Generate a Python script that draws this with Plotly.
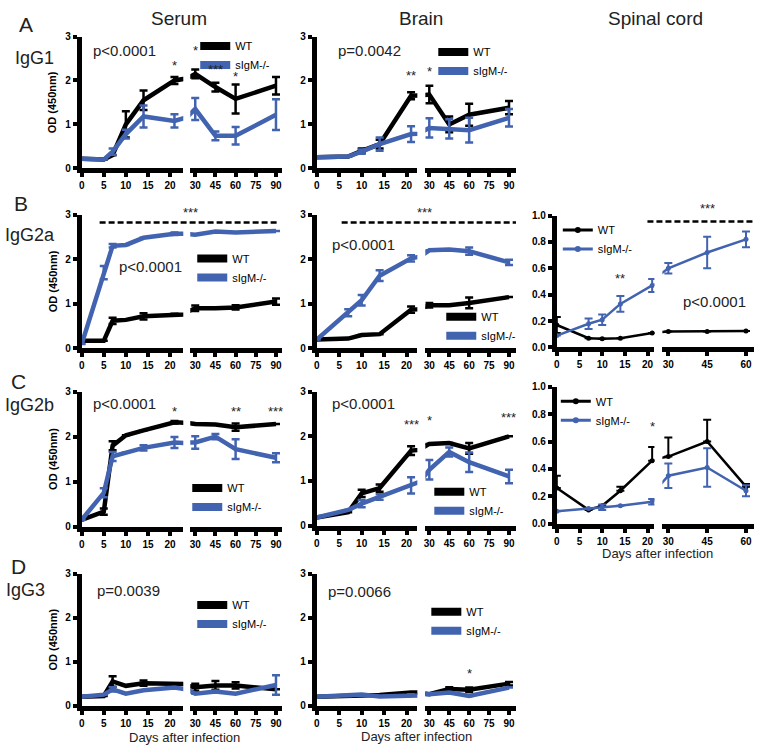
import plotly.graph_objects as go

W, H = 760, 749
BLACK = "#000000"
BLUE = "#4263AF"
FONT = "Liberation Sans, Arial, Helvetica, sans-serif"

# ---------------- data (OD 450nm, mean and SEM) ----------------
# IgG1
igg1_serum_days = [0, 5, 7, 10, 14, 21, 30, 45, 60, 90]
igg1_serum_wt = [0.22, 0.20, 0.30, 1.00, 1.55, 2.00, 2.15, 1.85, 1.58, 1.88]
igg1_serum_wt_sem = [0, 0, 0, 0.30, 0.22, 0.08, 0.10, 0.10, 0.33, 0.20]
igg1_serum_ko = [0.22, 0.20, 0.38, 0.78, 1.18, 1.08, 1.35, 0.74, 0.74, 1.22]
igg1_serum_ko_sem = [0, 0, 0.07, 0.10, 0.25, 0.15, 0.25, 0.10, 0.20, 0.35]

igg1_brain_days = [0, 7, 10, 14, 21, 30, 45, 60, 90]
igg1_brain_wt = [0.25, 0.27, 0.40, 0.55, 1.65, 1.68, 1.00, 1.22, 1.38]
igg1_brain_wt_sem = [0, 0, 0.05, 0.10, 0.08, 0.20, 0.18, 0.25, 0.15]
igg1_brain_ko = [0.25, 0.27, 0.38, 0.55, 0.78, 0.92, 0.90, 0.87, 1.15]
igg1_brain_ko_sem = [0, 0, 0.05, 0.15, 0.18, 0.22, 0.22, 0.28, 0.20]

# IgG2a
igg2a_serum_days = [0, 5, 7, 10, 14, 21, 30, 45, 60, 90]
igg2a_serum_wt = [0.17, 0.17, 0.62, 0.64, 0.72, 0.78, 0.90, 0.90, 0.92, 1.05]
igg2a_serum_wt_sem = [0, 0, 0.07, 0, 0.07, 0, 0.06, 0, 0.05, 0.07]
igg2a_serum_ko = [0.10, 1.70, 2.30, 2.32, 2.48, 2.57, 2.55, 2.62, 2.60, 2.63]
igg2a_serum_ko_sem = [0, 0.15, 0.04, 0, 0, 0.03, 0, 0, 0, 0]

igg2a_brain_days = [0, 7, 10, 14, 21, 30, 45, 60, 90]
igg2a_brain_wt = [0.20, 0.22, 0.30, 0.32, 0.87, 0.97, 0.97, 1.02, 1.15]
igg2a_brain_wt_sem = [0, 0, 0, 0, 0.07, 0.05, 0, 0.12, 0]
igg2a_brain_ko = [0.20, 0.80, 1.08, 1.63, 2.02, 2.20, 2.22, 2.18, 1.93]
igg2a_brain_ko_sem = [0, 0.08, 0.12, 0.12, 0.07, 0, 0, 0.08, 0.06]

igg2a_spinal_days = [0, 7, 10, 14, 21, 30, 45, 60]
igg2a_spinal_wt = [0.17, 0.07, 0.065, 0.07, 0.11, 0.12, 0.12, 0.125]
igg2a_spinal_wt_sem = [0.06, 0, 0, 0, 0, 0, 0, 0]
igg2a_spinal_ko = [0.09, 0.18, 0.21, 0.33, 0.47, 0.60, 0.72, 0.82]
igg2a_spinal_ko_sem = [0, 0.04, 0.04, 0.06, 0.05, 0.04, 0.12, 0.06]

# IgG2b
igg2b_serum_days = [0, 5, 7, 10, 14, 21, 30, 45, 60, 90]
igg2b_serum_wt = [0.15, 0.33, 1.80, 2.03, 2.14, 2.32, 2.28, 2.27, 2.21, 2.28]
igg2b_serum_wt_sem = [0, 0.07, 0.10, 0, 0, 0.03, 0, 0, 0.08, 0]
igg2b_serum_ko = [0.15, 0.75, 1.56, 1.65, 1.75, 1.87, 1.87, 2.00, 1.72, 1.53]
igg2b_serum_ko_sem = [0, 0.10, 0.10, 0, 0.06, 0.12, 0.14, 0.06, 0.22, 0.10]

igg2b_brain_days = [0, 7, 10, 14, 21, 30, 45, 60, 90]
igg2b_brain_wt = [0.18, 0.30, 0.72, 0.84, 1.68, 1.83, 1.85, 1.73, 2.00]
igg2b_brain_wt_sem = [0, 0, 0.08, 0.08, 0.10, 0, 0, 0.12, 0]
igg2b_brain_ko = [0.18, 0.35, 0.49, 0.64, 0.90, 1.25, 1.65, 1.42, 1.10]
igg2b_brain_ko_sem = [0, 0, 0.08, 0.06, 0.18, 0.22, 0.10, 0.22, 0.15]

igg2b_spinal_days = [0, 7, 10, 14, 21, 30, 45, 60]
igg2b_spinal_wt = [0.26, 0.10, 0.13, 0.24, 0.46, 0.49, 0.60, 0.27]
igg2b_spinal_wt_sem = [0.09, 0, 0, 0.03, 0.10, 0.14, 0.16, 0.02]
igg2b_spinal_ko = [0.09, 0.11, 0.12, 0.13, 0.16, 0.35, 0.41, 0.24]
igg2b_spinal_ko_sem = [0, 0, 0.02, 0, 0.02, 0.09, 0.14, 0.04]

# IgG3
igg3_serum_days = [0, 5, 7, 10, 14, 21, 30, 45, 60, 90]
igg3_serum_wt = [0.20, 0.22, 0.55, 0.45, 0.51, 0.46, 0.42, 0.46, 0.46, 0.37]
igg3_serum_wt_sem = [0, 0, 0.12, 0, 0.06, 0, 0.08, 0.10, 0.07, 0]
igg3_serum_ko = [0.20, 0.25, 0.37, 0.27, 0.35, 0.41, 0.27, 0.32, 0.27, 0.47]
igg3_serum_ko_sem = [0, 0, 0.05, 0, 0, 0, 0, 0, 0, 0.22]

igg3_brain_days = [0, 7, 10, 14, 21, 30, 45, 60, 90]
igg3_brain_wt = [0.20, 0.22, 0.25, 0.24, 0.30, 0.26, 0.38, 0.36, 0.50]
igg3_brain_wt_sem = [0, 0, 0, 0, 0, 0, 0.04, 0.05, 0.04]
igg3_brain_ko = [0.20, 0.22, 0.25, 0.21, 0.26, 0.26, 0.30, 0.22, 0.41]
igg3_brain_ko_sem = [0, 0, 0, 0, 0, 0, 0, 0, 0]

# tick labels
early_ticks = [0, 5, 10, 15, 20]
late_ticks_long = [30, 45, 60, 75, 90]
late_ticks_short = [30, 45, 60]
od_ticks = [0, 1, 2, 3]
od_ticks_spinal = [0.0, 0.2, 0.4, 0.6, 0.8, 1.0]

series_names = ["WT", "sIgM-/-"]
column_titles = ["Serum", "Brain", "Spinal cord"]
row_letters = ["A", "B", "C", "D"]
row_isotypes = ["IgG1", "IgG2a", "IgG2b", "IgG3"]

# ---------------- layout geometry (pixels) ----------------
COL_GEOM = {
    "serum": {"seg1": (79, 181, 0, 23.0), "seg2": (188, 280, 26.3, 94.4), "late": late_ticks_long},
    "brain": {"seg1": (315, 416, 0, 22.4), "seg2": (424, 515, 27.0, 95.25), "late": late_ticks_long},
    "spinal": {"seg1": (556, 654, 0, 21.5), "seg2": (662, 754, 27.7, 63.1), "late": late_ticks_short},
}


def xd(px):
    return px / W


def yd(py):
    return 1 - py / H


panels = [
    dict(col="serum", top=31, bot=165, ymax=3,
         days=igg1_serum_days, wt=igg1_serum_wt, wt_e=igg1_serum_wt_sem, ko=igg1_serum_ko, ko_e=igg1_serum_ko_sem,
         legend=(233, 41), pval=("p<0.0001", 122, 45),
         stars=[(0, 21, 2.35, "*"), (1, 30, 2.68, "*"), (1, 45, 2.24, "***"), (1, 60, 2.1, "*")]),
    dict(col="brain", top=31, bot=165, ymax=3,
         days=igg1_brain_days, wt=igg1_brain_wt, wt_e=igg1_brain_wt_sem, ko=igg1_brain_ko, ko_e=igg1_brain_ko_sem,
         legend=(472, 47), pval=("p=0.0042", 368, 45),
         stars=[(0, 21, 2.12, "**"), (1, 30, 2.2, "*")]),
    dict(col="serum", top=212, bot=348, ymax=3,
         days=igg2a_serum_days, wt=igg2a_serum_wt, wt_e=igg2a_serum_wt_sem, ko=igg2a_serum_ko, ko_e=igg2a_serum_ko_sem,
         legend=(230, 257), pval=("p<0.0001", 148, 265), stars=[]),
    dict(col="brain", top=212, bot=348, ymax=3,
         days=igg2a_brain_days, wt=igg2a_brain_wt, wt_e=igg2a_brain_wt_sem, ko=igg2a_brain_ko, ko_e=igg2a_brain_ko_sem,
         legend=(480, 316), pval=("p<0.0001", 362, 242), stars=[]),
    dict(col="spinal", top=213, bot=347, ymax=1,
         days=igg2a_spinal_days, wt=igg2a_spinal_wt, wt_e=igg2a_spinal_wt_sem, ko=igg2a_spinal_ko, ko_e=igg2a_spinal_ko_sem,
         legend=(597, 228), pval=("p<0.0001", 714, 300), stars=[(0, 14, 0.52, "**")]),
    dict(col="serum", top=392, bot=529, ymax=3,
         days=igg2b_serum_days, wt=igg2b_serum_wt, wt_e=igg2b_serum_wt_sem, ko=igg2b_serum_ko, ko_e=igg2b_serum_ko_sem,
         legend=(225, 490), pval=("p<0.0001", 122, 404),
         stars=[(0, 21, 2.57, "*"), (1, 60, 2.57, "**"), (1, 90, 2.57, "***")]),
    dict(col="brain", top=392, bot=528, ymax=3,
         days=igg2b_brain_days, wt=igg2b_brain_wt, wt_e=igg2b_brain_wt_sem, ko=igg2b_brain_ko, ko_e=igg2b_brain_ko_sem,
         legend=(468, 494), pval=("p<0.0001", 362, 404),
         stars=[(0, 21, 2.27, "***"), (1, 30, 2.36, "*"), (1, 90, 2.43, "***")]),
    dict(col="spinal", top=387, bot=526, ymax=1, upper_only_wt=True,
         days=igg2b_spinal_days, wt=igg2b_spinal_wt, wt_e=igg2b_spinal_wt_sem, ko=igg2b_spinal_ko, ko_e=igg2b_spinal_ko_sem,
         legend=(595, 402), pval=None, stars=[(0, 21, 0.71, "*")]),
    dict(col="serum", top=577, bot=711, ymax=3,
         days=igg3_serum_days, wt=igg3_serum_wt, wt_e=igg3_serum_wt_sem, ko=igg3_serum_ko, ko_e=igg3_serum_ko_sem,
         legend=(230, 609), pval=("p=0.0039", 126, 594), stars=[]),
    dict(col="brain", top=577, bot=711, ymax=3,
         days=igg3_brain_days, wt=igg3_brain_wt, wt_e=igg3_brain_wt_sem, ko=igg3_brain_ko, ko_e=igg3_brain_ko_sem,
         legend=(465, 616), pval=("p=0.0066", 358, 595), stars=[(1, 60, 0.74, "*")]),
]

fig = go.Figure()
layout = {}
annotations = []
shapes = []

tickfont = dict(family=FONT, size=10, color=BLACK, weight="bold")


def err_vals(vals):
    return [v if v > 0 else None for v in vals]


def label(text, px, py, size, angle=0, bold=False, color="#222"):
    f = dict(family=FONT, size=size, color=color)
    if bold:
        f["weight"] = "bold"
    return dict(text=text, x=xd(px), y=yd(py), xref="paper", yref="paper",
                xanchor="center", yanchor="middle", showarrow=False,
                textangle=angle, font=f)


for i, p in enumerate(panels):
    g = COL_GEOM[p["col"]]
    spinal = p["col"] == "spinal"
    lw = 2.5 if spinal else 4.5
    axes_ids = []
    for s, seg in enumerate(("seg1", "seg2")):
        n = 2 * i + s + 1
        xa = "x" if n == 1 else f"x{n}"
        ya = "y" if n == 1 else f"y{n}"
        axes_ids.append((xa, ya))
        x0, x1, r0, r1 = g[seg]
        xkey = "xaxis" if n == 1 else f"xaxis{n}"
        ykey = "yaxis" if n == 1 else f"yaxis{n}"
        layout[xkey] = dict(
            domain=[xd(x0), xd(x1)], range=[r0, r1], anchor=ya,
            tickvals=early_ticks if s == 0 else g["late"],
            showline=True, linewidth=5, linecolor=BLACK,
            ticks="outside", ticklen=4, tickwidth=4, tickcolor=BLACK,
            tickfont=tickfont, showgrid=False, zeroline=False, fixedrange=True,
        )
        ydict = dict(
            domain=[yd(p["bot"]), yd(p["top"])], range=[0, p["ymax"]], anchor=xa,
            showgrid=False, zeroline=False, fixedrange=True,
        )
        if s == 0:
            ydict.update(
                tickvals=od_ticks_spinal if spinal else od_ticks,
                tickformat=".1f" if spinal else "d",
                showline=True, linewidth=5, linecolor=BLACK,
                ticks="outside", ticklen=4, tickwidth=4, tickcolor=BLACK,
                tickfont=tickfont,
            )
        else:
            ydict.update(showline=False, showticklabels=False, ticks="")
        layout[ykey] = ydict

        for name, vals, errs, color in (
            ("WT", p["wt"], p["wt_e"], BLACK),
            ("sIgM-/-", p["ko"], p["ko_e"], BLUE),
        ):
            ey = dict(type="data", array=err_vals(errs), visible=True, color=color,
                      thickness=2 if spinal else 2.5, width=4)
            if name == "WT" and p.get("upper_only_wt"):
                ey["symmetric"] = False
                ey["arrayminus"] = [0] * len(errs)
            fig.add_trace(go.Scatter(
                x=p["days"], y=vals, name=name,
                mode="lines+markers" if spinal else "lines",
                line=dict(color=color, width=lw),
                marker=dict(size=5, color=color),
                error_y=ey, xaxis=xa, yaxis=ya,
                showlegend=False, hoverinfo="skip",
            ))

    # per-panel legend
    lkey = "legend" if i == 0 else f"legend{i + 1}"
    for name, color in zip(series_names, (BLACK, BLUE)):
        fig.add_trace(go.Scatter(
            x=[None], y=[None], name=name,
            mode="lines+markers" if spinal else "lines",
            line=dict(color=color, width=3 if spinal else 8),
            marker=dict(size=6, color=color),
            xaxis=axes_ids[0][0], yaxis=axes_ids[0][1],
            showlegend=True, legend=lkey,
        ))
    tx, ty = p["legend"]
    layout[lkey] = dict(
        x=xd(tx - 40), y=yd(ty - 15), xanchor="left", yanchor="top",
        bgcolor="rgba(0,0,0,0)", borderwidth=0, tracegroupgap=0,
        font=dict(family=FONT, size=11, color=BLACK),
        itemclick=False, itemdoubleclick=False,
    )

    if p["pval"]:
        txt, px, py = p["pval"]
        annotations.append(label(txt, px, py, 15))
    for s, day, yv, txt in p["stars"]:
        xa, ya = axes_ids[s]
        annotations.append(dict(text=txt, x=day, y=yv, xref=xa, yref=ya, showarrow=False,
                                xanchor="center", yanchor="middle",
                                font=dict(family=FONT, size=13, color="#222")))

# significance dashed lines for IgG2a (row B)
for (x0, x1, yy, sx, sy) in ((97, 275, 220, 188, 210), (340, 515, 220, 423, 210), (647, 753, 219, 707, 206)):
    shapes.append(dict(type="line", xref="paper", yref="paper", x0=xd(x0), x1=xd(x1), y0=yd(yy), y1=yd(yy),
                       line=dict(color=BLACK, width=2.5, dash="6px,3px")))
    annotations.append(label("***", sx, sy, 13))

# column titles
for title, cx in zip(column_titles, (177, 420, 655)):
    annotations.append(label(title, cx, 13, 19))

# row labels
for letter, iso, (lx, ly), (ix, iy) in zip(
        row_letters, row_isotypes,
        ((23, 19), (18, 201), (16, 382), (16, 570)),
        ((32, 53), (27, 233), (27, 406), (23, 594))):
    annotations.append(label(letter, lx, ly, 21))
    annotations.append(label(iso, ix, iy, 18))

# y titles (serum column)
for top, bot in ((31, 165), (212, 348), (392, 529), (577, 711)):
    annotations.append(label("OD (450nm)", 50, (top + bot) / 2, 11, angle=-90, bold=True, color=BLACK))

# x titles
for cx, cy in ((182, 743), (415, 742), (657, 556)):
    annotations.append(label("Days after infection", cx, cy, 13))

layout.update(
    width=W, height=H, autosize=False,
    margin=dict(l=0, r=0, t=0, b=0),
    paper_bgcolor="white", plot_bgcolor="rgba(0,0,0,0)",
    font=dict(family=FONT, color=BLACK),
    annotations=annotations, shapes=shapes,
)
fig.update_layout(**layout)
# remove the default page margin so the 760x749 figure fills the window exactly
fig.write_html("out.html", config={"displayModeBar": False},
               post_script="document.body.style.margin='0px';")
